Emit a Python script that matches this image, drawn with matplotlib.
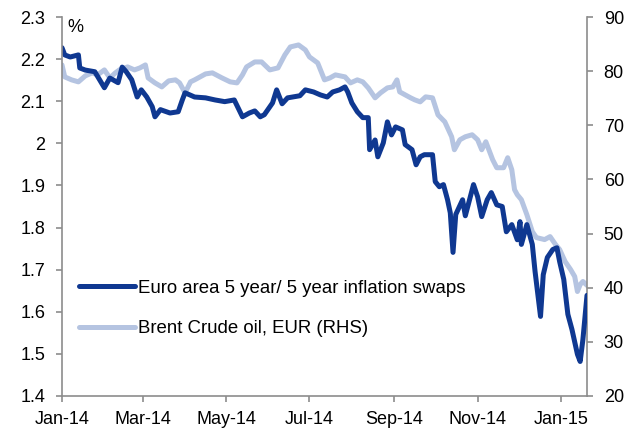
import pandas as pd
import matplotlib
matplotlib.use("Agg")
import matplotlib.pyplot as plt
import matplotlib.dates as mdates
import matplotlib.ticker as ticker

plt.rcParams['font.family'] = ['Liberation Sans', 'DejaVu Sans']
plt.rcParams['font.size'] = 13

# Data: days counted from 1 Jan 2014
base = pd.Timestamp('2014-01-01')

swap_days = [0, 2, 6, 12, 13, 17, 24, 31, 35, 41, 44, 47, 51, 55, 58, 62, 66, 68, 72, 79,
             85, 88, 90, 97, 105, 112, 119, 126, 132, 137, 141, 145, 148, 154, 157, 161, 165,
             174, 178, 184, 189, 194, 198, 203, 207, 209, 212, 216, 220, 224, 225, 229, 231,
             235, 238, 241, 244, 249, 251, 256, 259, 262, 265, 271, 273, 276, 279, 282, 284,
             286, 288, 293, 295, 301, 304, 307, 311, 314, 318, 322, 325, 329, 333, 335, 336,
             340, 344, 346, 350, 352, 355, 359, 362, 364, 367, 370, 373, 377, 379, 381, 384]
swap_vals = [2.227, 2.210, 2.205, 2.210, 2.179, 2.174, 2.170, 2.132, 2.155, 2.144, 2.181,
             2.170, 2.151, 2.110, 2.127, 2.110, 2.087, 2.063, 2.080, 2.072, 2.075, 2.103,
             2.120, 2.110, 2.108, 2.103, 2.099, 2.103, 2.063, 2.072, 2.077, 2.063, 2.068,
             2.096, 2.127, 2.094, 2.108, 2.113, 2.127, 2.122, 2.115, 2.110, 2.122, 2.127,
             2.134, 2.122, 2.096, 2.075, 2.061, 2.061, 1.985, 2.008, 1.968, 2.001, 2.051,
             2.020, 2.039, 2.032, 1.997, 1.985, 1.949, 1.968, 1.973, 1.973, 1.909, 1.897,
             1.902, 1.866, 1.835, 1.741, 1.831, 1.866, 1.828, 1.902, 1.873, 1.826, 1.866,
             1.883, 1.854, 1.850, 1.790, 1.807, 1.771, 1.814, 1.760, 1.807, 1.760, 1.696,
             1.589, 1.688, 1.729, 1.748, 1.752, 1.719, 1.677, 1.594, 1.558, 1.499, 1.482,
             1.534, 1.639]

oil_days = [0, 2, 7, 12, 17, 22, 26, 31, 35, 39, 42, 48, 53, 57, 61, 63, 68, 73, 78, 83,
            86, 90, 94, 97, 105, 110, 117, 123, 128, 132, 135, 141, 146, 152, 158, 163, 167,
            173, 178, 181, 187, 192, 196, 200, 207, 211, 216, 220, 224, 229, 233, 238, 242,
            245, 247, 251, 255, 258, 262, 266, 271, 275, 280, 285, 287, 291, 295, 300, 304,
            307, 310, 315, 318, 323, 326, 329, 331, 333, 336, 340, 344, 347, 353, 357, 361,
            364, 368, 372, 375, 377, 379, 381, 385]
oil_vals = [81.15, 78.94, 78.39, 78.02, 79.12, 79.68, 79.31, 80.23, 78.75, 79.68, 80.23,
            80.78, 80.23, 80.60, 81.15, 78.75, 77.83, 77.09, 78.20, 78.39, 77.83, 75.99,
            78.02, 78.39, 79.49, 79.68, 78.75, 78.02, 77.83, 79.31, 80.78, 81.70, 81.70,
            80.23, 80.60, 83.00, 84.47, 84.84, 83.92, 82.63, 81.52, 78.39, 78.75, 79.31,
            78.94, 77.83, 78.39, 78.02, 76.91, 75.07, 75.99, 76.91, 77.09, 78.39, 76.17,
            75.62, 75.07, 74.70, 74.33, 75.25, 75.07, 71.93, 70.64, 67.88, 65.48, 67.32,
            67.88, 68.25, 67.32, 65.48, 66.96, 63.64, 62.16, 62.16, 64.01, 61.79, 58.11,
            57.18, 56.26, 53.50, 50.36, 49.26, 48.89, 49.44, 47.97, 47.05, 44.83, 43.36,
            42.07, 39.30, 40.59, 41.15, 40.22]

swap_dates = base + pd.to_timedelta(swap_days, unit='D')
oil_dates = base + pd.to_timedelta(oil_days, unit='D')

dark = '#0f3891'
light = '#b5c4e1'
grey = '#8c8c8c'

fig = plt.figure(figsize=(6.35, 4.28), dpi=100)
ax = fig.add_axes([62/635, 1 - 396/428, 525/635, 379/428])
ax2 = ax.twinx()

l2, = ax2.plot(oil_dates, oil_vals, color=light, linewidth=3.6,
               solid_capstyle='round', label='Brent Crude oil, EUR (RHS)')
l1, = ax.plot(swap_dates, swap_vals, color=dark, linewidth=3.6,
              solid_capstyle='round', label='Euro area 5 year/ 5 year inflation swaps')

# dark series above the light one
ax.set_zorder(ax2.get_zorder() + 1)
ax.patch.set_visible(False)

ax.set_xlim(pd.Timestamp('2014-01-01'), pd.Timestamp('2015-01-20'))
ax.set_ylim(1.4, 2.3)
ax2.set_ylim(20, 90)

ax.xaxis.set_major_locator(mdates.MonthLocator(bymonth=[1, 3, 5, 7, 9, 11]))
ax.xaxis.set_major_formatter(mdates.DateFormatter('%b-%y'))
ax.yaxis.set_major_locator(ticker.MultipleLocator(0.1))
ax.yaxis.set_major_formatter(ticker.FuncFormatter(lambda v, p: '{:g}'.format(round(v, 2))))
ax2.yaxis.set_major_locator(ticker.MultipleLocator(10))

for a in (ax, ax2):
    for s in a.spines.values():
        s.set_color(grey)
        s.set_linewidth(1.2)
    a.spines['top'].set_visible(False)
ax.spines['right'].set_visible(False)
ax2.spines['left'].set_visible(False)
ax2.spines['bottom'].set_visible(False)

ax.tick_params(axis='y', length=4, width=1.2, color=grey, pad=8, labelcolor='black')
ax.tick_params(axis='x', length=4, width=1.2, color=grey, pad=7, labelcolor='black')
ax2.tick_params(axis='y', length=4, width=1.2, color=grey, pad=8, labelcolor='black')

ax.text(0.01, 0.995, '%', transform=ax.transAxes, ha='left', va='top')

ax.legend(handles=[l1, l2], loc='upper left', bbox_to_anchor=(0.032, 0.307),
          frameon=False, borderpad=0, borderaxespad=0, handlelength=3.0,
          handletextpad=0.2, labelspacing=1.26, fontsize=13.4)

fig.savefig('out.png', dpi=100)
